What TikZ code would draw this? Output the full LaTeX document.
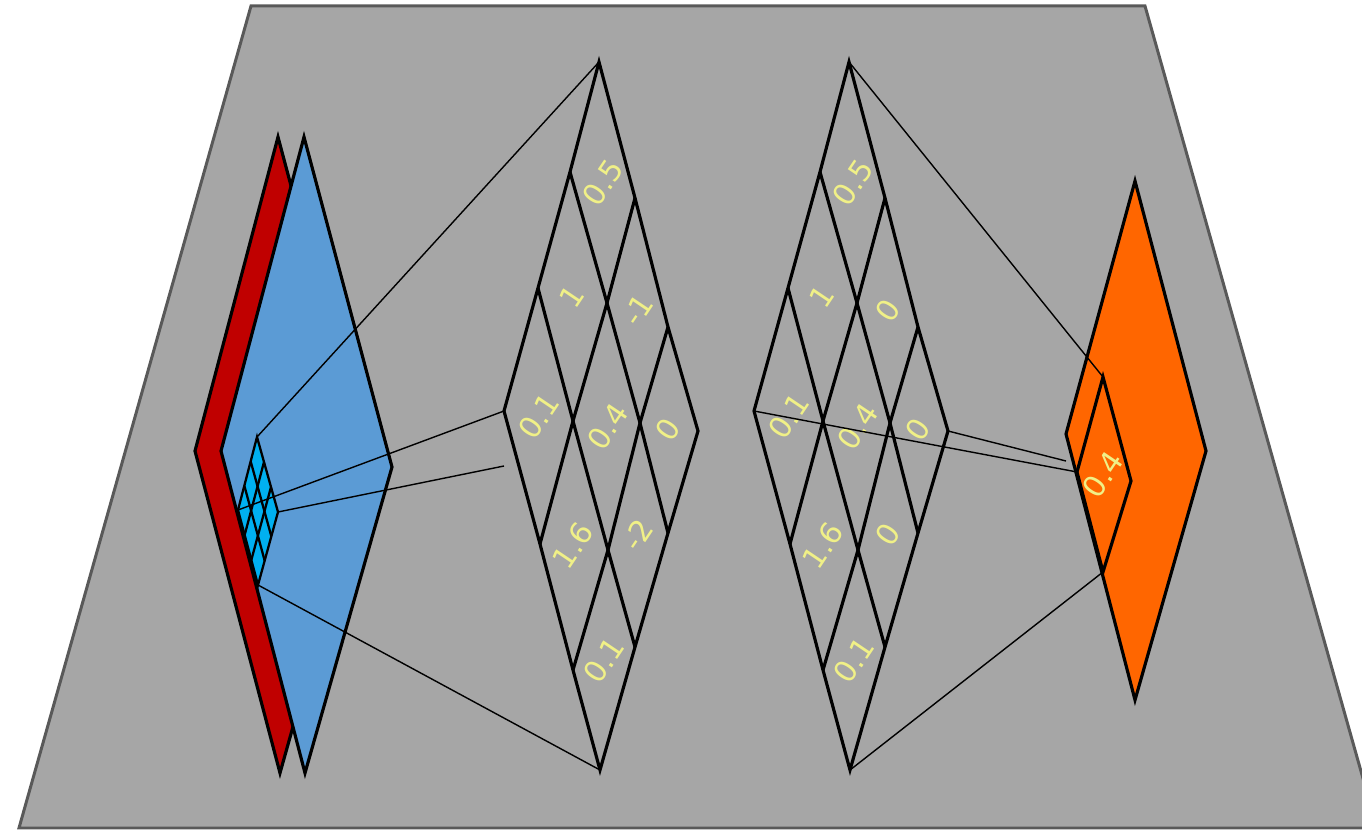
\documentclass[tikz,border=0pt]{standalone}
\usepackage{fontspec}
\newfontfamily\lblfont{DejaVu Sans}
\usetikzlibrary{calc}
\definecolor{bgfill}{HTML}{A6A6A6}
\definecolor{bgline}{HTML}{595959}
\definecolor{mapred}{HTML}{C00000}
\definecolor{mapblue}{HTML}{5B9BD5}
\definecolor{cellblue}{HTML}{00B0F0}
\definecolor{maporange}{HTML}{FF6600}
\definecolor{lblyellow}{RGB}{240,240,135}
\tikzset{
  plane/.style={line width=1.8pt, draw=black, line join=miter},
  gridline/.style={line width=1.8pt, draw=black},
  conn/.style={line width=0.8pt, draw=black},
  val/.style={text=lblyellow, font=\lblfont\fontsize{17}{17}\selectfont, rotate=56, inner sep=0pt},
}
\begin{document}
\begin{tikzpicture}[x=0.02cm,y=-0.02cm]
\useasboundingbox (0,0) rectangle (1362,830);
% background trapezoid
\begin{scope}
\clip (0,0) rectangle (1362,830);
\draw[line width=1.7pt, draw=bgline, fill=bgfill] (251,6) -- (1145,6) -- (1377,828) -- (19,828) -- cycle;
\end{scope}
% input maps
\draw[plane, fill=mapred] (278,137) -- (366,467) -- (280,773) -- (195,451) -- cycle;
\draw[plane, fill=mapblue] (304,137) -- (392,467) -- (305,773) -- (221,451) -- cycle;
% small receptive field grid
\coordinate (ST) at (257,437);
\coordinate (SL) at (238,510);
\coordinate (SR) at (278,512);
\coordinate (SB) at (258,585);
\draw[line width=1.3pt, fill=cellblue, line join=miter] (ST) -- (SR) -- (SB) -- (SL) -- cycle;
\foreach \k in {1,2}{
  \draw[line width=1.3pt] ($(ST)!\k/3!(SL)$) -- ($(SR)!\k/3!(SB)$);
  \draw[line width=1.3pt] ($(ST)!\k/3!(SR)$) -- ($(SL)!\k/3!(SB)$);
}
% filter grids
\foreach \p/\dx in {A/0,B/250}{
  \begin{scope}[xshift=\dx*0.02cm]
  \coordinate (\p00) at (599,62);  \coordinate (\p01) at (635,198);
  \coordinate (\p02) at (668,327); \coordinate (\p03) at (698,431);
  \coordinate (\p10) at (570,172); \coordinate (\p11) at (607,303);
  \coordinate (\p12) at (640,423); \coordinate (\p13) at (668,533);
  \coordinate (\p20) at (538,288); \coordinate (\p21) at (573,421);
  \coordinate (\p22) at (608,550); \coordinate (\p23) at (635,647);
  \coordinate (\p30) at (504,411); \coordinate (\p31) at (540,544);
  \coordinate (\p32) at (573,670); \coordinate (\p33) at (600,770);
  \end{scope}
  \draw[plane] (\p00) -- (\p01) -- (\p02) -- (\p03) -- (\p13) -- (\p23) -- (\p33) -- (\p32) -- (\p31) -- (\p30) -- (\p20) -- (\p10) -- cycle;
  \draw[gridline] (\p10) -- (\p11) -- (\p12) -- (\p13);
  \draw[gridline] (\p20) -- (\p21) -- (\p22) -- (\p23);
  \draw[gridline] (\p01) -- (\p11) -- (\p21) -- (\p31);
  \draw[gridline] (\p02) -- (\p12) -- (\p22) -- (\p32);
}
% filter values
\node[val] (a00) at ($(A00)!0.5!(A11)$) {0.5};
\node[val] (a10) at ($(A10)!0.5!(A21)$) {1};
\node[val] (a01) at ($(A01)!0.5!(A12)$) {-1};
\node[val] (a20) at ($(A20)!0.5!(A31)$) {0.1};
\node[val] (a11) at ($(A11)!0.5!(A22)$) {0.4};
\node[val] (a02) at ($(A02)!0.5!(A13)$) {0};
\node[val] (a21) at ($(A21)!0.5!(A32)$) {1.6};
\node[val] (a12) at ($(A12)!0.5!(A23)$) {-2};
\node[val] (a22) at ($(A22)!0.5!(A33)$) {0.1};
\node[val] (b00) at ($(B00)!0.5!(B11)$) {0.5};
\node[val] (b10) at ($(B10)!0.5!(B21)$) {1};
\node[val] (b01) at ($(B01)!0.5!(B12)$) {0};
\node[val] (b20) at ($(B20)!0.5!(B31)$) {0.1};
\node[val] (b11) at ($(B11)!0.5!(B22)$) {0.4};
\node[val] (b02) at ($(B02)!0.5!(B13)$) {0};
\node[val] (b21) at ($(B21)!0.5!(B32)$) {1.6};
\node[val] (b12) at ($(B12)!0.5!(B23)$) {0};
\node[val] (b22) at ($(B22)!0.5!(B33)$) {0.1};
% output map
\draw[plane, fill=maporange] (1135,181) -- (1206,451) -- (1135,700) -- (1066,434) -- cycle;
\coordinate (OT) at (1103,377);
\coordinate (OL) at (1077,472);
\coordinate (OR) at (1131,481);
\coordinate (OB) at (1103,572);
\draw[plane] (OT) -- (OR) -- (OB) -- (OL) -- cycle;
\node[val] (out) at ($(OT)!0.5!(OB)$) {0.4};
% connectors
\coordinate (freeA) at (504,466);
\coordinate (freeB) at (1066,461);
\draw[conn] (ST) -- (A00);
\draw[conn] (SB) -- (A33);
\draw[conn] (SL) -- (A30);
\draw[conn] (SR) -- (freeA);
\draw[conn] (B00) -- (OT);
\draw[conn] (B33) -- (OB);
\draw[conn] (B30) -- (OL);
\draw[conn] (B03) -- (freeB);
\end{tikzpicture}
\end{document}
